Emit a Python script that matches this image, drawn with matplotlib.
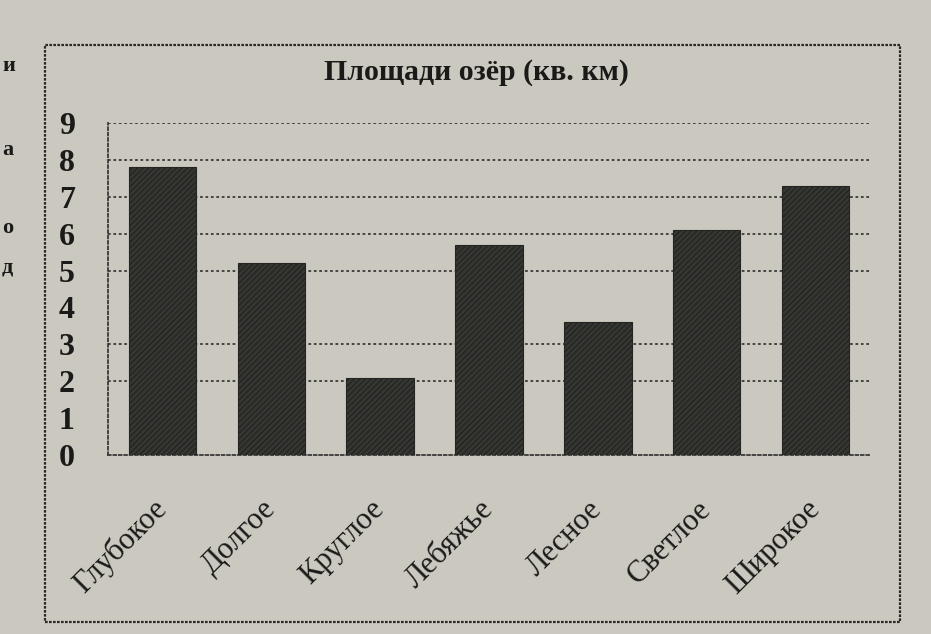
import matplotlib
matplotlib.use("Agg")
import matplotlib.pyplot as plt
from matplotlib.patches import Rectangle

# ---- data ----
lakes = ["Глубокое", "Долгое", "Круглое", "Лебяжье", "Лесное", "Светлое", "Широкое"]
areas = [7.8, 5.2, 2.1, 5.7, 3.6, 6.1, 7.3]
y_ticks = [0, 1, 2, 3, 4, 5, 6, 7, 8, 9]
grid_levels = [2, 3, 5, 6, 7, 8, 9]
title = "Площади озёр (кв. км)"

W, H = 931, 634
bg = "#cbc8c0"
ink = "#1a1a18"
bar_col = "#363633"
serif = ["Liberation Serif", "DejaVu Serif"]

plt.rcParams["hatch.color"] = "#4a4a46"
fig = plt.figure(figsize=(W / 100, H / 100), dpi=100, facecolor=bg)

# outer chart frame
fig.patches.append(Rectangle((45 / W, 1 - 622 / H), (900 - 45) / W, (622 - 45) / H,
                             transform=fig.transFigure, fill=False,
                             edgecolor="#2a2a28", lw=1.6, linestyle=(0, (1.2, 0.6))))

ax = fig.add_axes([108 / W, 1 - 455 / H, (870 - 108) / W, (455 - 123) / H])
ax.set_facecolor("none")

x = list(range(len(lakes)))
ax.bar(x, areas, width=0.62, color=bar_col, edgecolor="#242422", lw=0.8,
       hatch="//////", zorder=3)

ax.hlines(grid_levels, -0.5, len(lakes) - 0.5, colors="#3a3a38", lw=1.3,
          linestyles=(0, (1.5, 1.5)), zorder=1)

ax.set_xlim(-0.5, len(lakes) - 0.5)
ax.set_ylim(0, 9)
ax.set_yticks(y_ticks)
ax.set_yticklabels([str(v) for v in y_ticks], fontsize=23, fontweight="bold",
                   family=serif, color=ink)
ax.set_xticks(x)
ax.set_xticklabels(lakes, rotation=45, ha="right", va="center",
                   rotation_mode="anchor", fontsize=22, family=serif, color=ink)
ax.tick_params(axis="y", length=0, pad=24)
ax.tick_params(axis="x", length=0, pad=36)

for s in ["top", "right"]:
    ax.spines[s].set_visible(False)
for s in ["left", "bottom"]:
    ax.spines[s].set_linestyle((0, (1.5, 1.5)))
    ax.spines[s].set_linewidth(1.3)
    ax.spines[s].set_color("#3a3a38")

fig.text(476 / W, 1 - 72 / H, title, ha="center", va="center", fontsize=21.5,
         fontweight="bold", family=serif, color=ink)

# fragments of page text at the left edge
for ch, yy in [("и", 66), ("а", 150), ("о", 228), ("д", 268)]:
    fig.text(2 / W, 1 - yy / H, ch, ha="left", va="center", fontsize=16,
             fontweight="bold", family=serif, color=ink)

fig.savefig("out.png", dpi=100, facecolor=bg)
